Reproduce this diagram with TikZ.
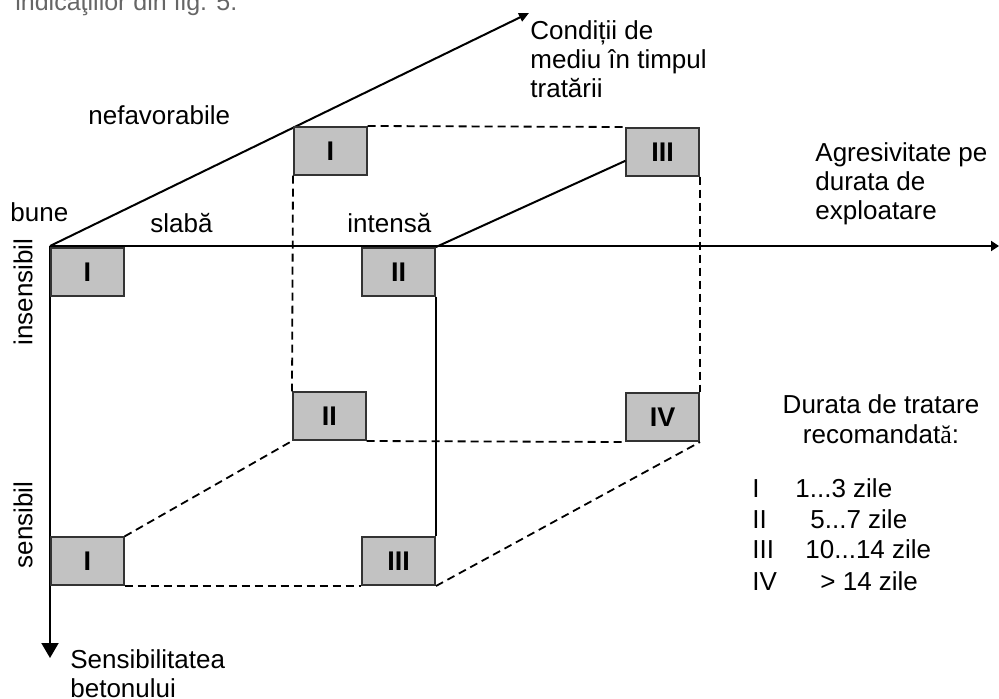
\documentclass[tikz,border=0pt]{standalone}
\usepackage{fontspec}
\setmainfont{Liberation Sans}
\newfontfamily\serifglyph{Liberation Serif}
\usetikzlibrary{arrows.meta}
\tikzset{
  box/.style={draw=black!80,line width=.8pt,fill=gray!48,minimum width=36.5pt,minimum height=24pt,inner sep=0pt,font=\fontsize{13.5}{14}\selectfont\bfseries},
  hidden/.style={line width=.9pt,dash pattern=on 4pt off 2.5pt},
  axis/.style={line width=1pt},
  lbl/.style={font=\fontsize{13}{14.5}\selectfont,inner sep=0pt},
}

\begin{document}
\begin{tikzpicture}[x=0.5pt,y=-0.5pt]
	\clip (0,0) rectangle (999,699);
	
	% cut-off line of the page text
	\node[lbl,anchor=base west,text=black!60,font=\fontsize{12.5}{13}\selectfont] (pagetext) at (15,11) {indicaţiilor din fig. 5.};
	
	% axes
	\coordinate (O) at (50,246);
	\coordinate (xend) at (999,246);
	\coordinate (yend) at (50,658);
	\coordinate (zend) at (529,13);
	\draw[axis,-{Triangle[length=4pt,width=5pt]}] (O) -- (xend);
	\draw[axis,-{Triangle[length=7.5pt,width=8.5pt]}] (O) -- (yend);
	\draw[axis,-{Triangle[length=5pt,width=4.5pt]}] (O) -- (zend);
	
	% front plane
	\node[box,anchor=north west] at (50,247) (fI) {I};
	\node[box,anchor=north east] at (436,247) (fII) {II};
	\node[box,anchor=south west] at (50,586) (sI) {I};
	\node[box,anchor=south east] at (436,586) (sIII) {III};
	
	% back plane
	\node[box,anchor=north west] at (293,126) (bI) {I};
	\node[box,anchor=north east] at (700,127) (bIII) {III};
	\node[box,anchor=south west] at (292,441) (bII) {II};
	\node[box,anchor=south east] at (700,442) (bIV) {IV};
	
	% edges
	\draw[axis] (fII.south east) -- (sIII.north east);
	\draw[axis] (fII.north east) -- ([yshift=-4.5pt]bIII.west);
	\draw[hidden] (bI.north east) -- (bIII.north west);
	\draw[hidden] (bI.south west) -- (bII.north west);
	\draw[hidden] (bIII.south east) -- (bIV.north east);
	\draw[hidden] (bII.south east) -- (bIV.south west);
	\draw[hidden] (sI.north east) -- (bII.south west);
	\draw[hidden] (sI.south east) -- (sIII.south west);
	\draw[hidden] (sIII.south east) -- (bIV.south east);
	
	% labels (multi-line: anchor on the last line)
	\node[lbl,anchor=base west] at (88,125) (nefav) {nefavorabile};
	\node[lbl,anchor=base west] at (10,222) (bune) {bune};
	\node[lbl,anchor=base west] at (150,233) (slaba) {slabă};
	\node[lbl,anchor=base west] at (347,233) (intensa) {intensă};
	\node[lbl,rotate=90] at (23,292) (insens) {insensibil};
	\node[lbl,rotate=90] at (23,525) (sens) {sensibil};
	\node[lbl,anchor=base west,align=left] at (530,98) (cond) {Condiții de\\mediu în timpul\\tratării};
	\node[lbl,anchor=base west,align=left] at (815,220) (agres) {Agresivitate pe\\durata de\\exploatare};
	\node[lbl,anchor=base west,align=left] at (70,697) (betbeton) {Sensibilitatea\\betonului};
	\node[lbl,anchor=base,align=center] at (881,443) (durata) {Durata de tratare\\recomandat{\serifglyph ă}:};
	
	% legend
	\node[lbl,anchor=base west] at (752,497) (nI) {I};
	\node[lbl,anchor=base west] at (795,497) (dI) {1...3 zile};
	\node[lbl,anchor=base west] at (752,528) (nII) {II};
	\node[lbl,anchor=base west] at (810,528) (dII) {5...7 zile};
	\node[lbl,anchor=base west] at (752,558) (nIII) {III};
	\node[lbl,anchor=base west] at (805,558) (dIII) {10...14 zile};
	\node[lbl,anchor=base west] at (752,590) (nIV) {IV};
	\node[lbl,anchor=base west] at (820,590) (dIV) {> 14 zile};

\end{tikzpicture}
\end{document}
